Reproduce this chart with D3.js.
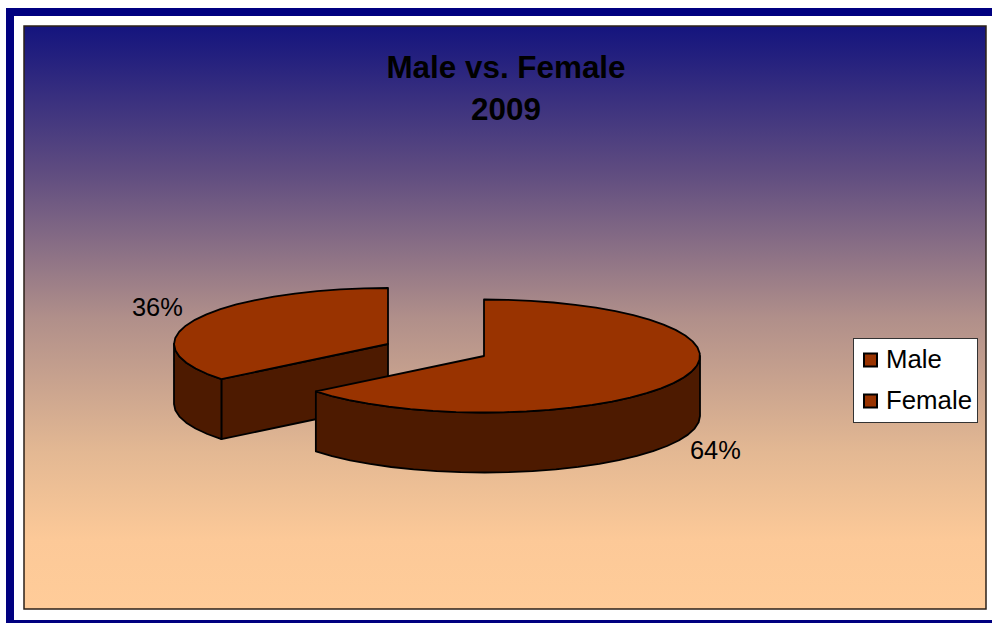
<!DOCTYPE html>
<html>
<head>
<meta charset="utf-8">
<script src="https://cdn.jsdelivr.net/npm/d3@7"></script>
<style>
html, body { margin: 0; padding: 0; background: #fff; overflow: hidden; }
text { font-family: "Liberation Sans", Arial, sans-serif; fill: #000; }
</style>
</head>
<body>
<div id="chart"></div>
<script>
// data
var categories = ["Male", "Female"];
var percents = [64.2, 35.8];
var titleLines = ["Male vs. Female", "2009"];

var width = 992, height = 623;
var topColor = "#993300", sideColor = "#4d1a00";

var svg = d3.select("#chart").append("svg")
    .attr("width", width)
    .attr("height", height);

// the background blend is not linear
var gradStops = [
    {o: "0%", c: "#14147e"},
    {o: "25%", c: "#5f4c80"},
    {o: "50%", c: "#b08f8a"},
    {o: "73%", c: "#e3b893"},
    {o: "88%", c: "#fcc998"},
    {o: "100%", c: "#ffcc99"}
];
var grad = svg.append("defs").append("linearGradient")
    .attr("id", "bg")
    .attr("x1", 0).attr("y1", 0).attr("x2", 0).attr("y2", 1);
grad.selectAll("stop")
    .data(gradStops)
  .enter().append("stop")
    .attr("offset", function(d) { return d.o; })
    .attr("stop-color", function(d) { return d.c; });

// outer frame, open on the right like the original
svg.append("path")
    .attr("d", "M992,12H10V624H992")
    .attr("fill", "none")
    .attr("stroke", "#000080")
    .attr("stroke-width", 8);

var plot = {left: 24, top: 26, right: 986, bottom: 609};
svg.append("rect")
    .attr("x", plot.left)
    .attr("y", plot.top)
    .attr("width", plot.right - plot.left)
    .attr("height", plot.bottom - plot.top)
    .attr("fill", "url(#bg)")
    .attr("stroke", "#2b2118")
    .attr("stroke-width", 1.5);

svg.selectAll(".title")
    .data(titleLines)
  .enter().append("text")
    .attr("class", "title")
    .attr("x", 506)
    .attr("y", function(d, i) { return 78 + i * 42; })
    .attr("text-anchor", "middle")
    .style("font-size", "31.4px")
    .style("font-weight", "bold")
    .text(function(d) { return d; });

// slices start at 12 o'clock and go clockwise
var arcs = d3.pie().sort(null).value(function(d) { return d; })(percents);

var depth = 60;
// the exploded slices have their own centres and radii
var centers = [{x: 484, y: 356, rx: 216, ry: 56.5}, {x: 388, y: 344, rx: 214, ry: 56}];

function point(c, a, dy) {
    var sx = d3.scaleLinear().domain([-1, 1]).range([c.x - c.rx, c.x + c.rx]);
    var sy = d3.scaleLinear().domain([-1, 1]).range([c.y + dy - c.ry, c.y + dy + c.ry]);
    return [sx(Math.sin(a)), sy(-Math.cos(a))];
}

function rim(c, a0, a1, dy) {
    var n = Math.max(2, Math.round(Math.abs(a1 - a0) / 0.11));
    return d3.range(n + 1).map(function(i) {
        return point(c, a0 + (a1 - a0) * i / n, dy);
    });
}

var line = d3.line();
var halfPi = Math.PI / 2;

function drawShape(pts, fill) {
    svg.append("path")
        .attr("d", line(pts) + "Z")
        .attr("fill", fill)
        .attr("stroke", "#000")
        .attr("stroke-width", 1.8)
        .attr("stroke-linejoin", "round");
}

// draw the back slice first, the big one overlaps it
[1, 0].forEach(function(i) {
    var d = arcs[i], c = centers[i];
    var centerPt = [c.x, c.y], centerLow = [c.x, c.y + depth];
    if (i === 1) {
        // cut face towards the viewer
        var e = point(c, d.startAngle, 0), eLow = point(c, d.startAngle, depth);
        drawShape([centerPt, e, eLow, centerLow], sideColor);
        // outer wall down to the left-most point
        var wall = rim(c, d.startAngle, 1.5 * Math.PI, 0);
        drawShape(wall.concat(rim(c, 1.5 * Math.PI, d.startAngle, depth)), sideColor);
    } else {
        var wall2 = rim(c, halfPi, d.endAngle, 0);
        drawShape(wall2.concat(rim(c, d.endAngle, halfPi, depth)), sideColor);
    }
    drawShape([centerPt].concat(rim(c, d.startAngle, d.endAngle, 0)), topColor);
});

// value labels
var labelPos = [{x: 690, y: 459}, {x: 132, y: 316}];
svg.selectAll(".pct")
    .data(percents)
  .enter().append("text")
    .attr("class", "pct")
    .attr("x", function(d, i) { return labelPos[i].x; })
    .attr("y", function(d, i) { return labelPos[i].y; })
    .style("font-size", "25.4px")
    .text(function(d) { return Math.round(d) + "%"; });

// legend
var legend = svg.append("g").attr("transform", "translate(853.5,338.5)");
legend.append("rect")
    .attr("width", 124)
    .attr("height", 84)
    .attr("fill", "#fff")
    .attr("stroke", "#333")
    .attr("stroke-width", 1);

var legendY = d3.scalePoint().domain(categories).range([22, 63]);
var item = legend.selectAll(".item")
    .data(categories)
  .enter().append("g")
    .attr("class", "item")
    .attr("transform", function(d) { return "translate(0," + legendY(d) + ")"; });
item.append("rect")
    .attr("x", 10.5)
    .attr("y", -7)
    .attr("width", 13)
    .attr("height", 13)
    .attr("fill", topColor)
    .attr("stroke", "#000")
    .attr("stroke-width", 2);
item.append("text")
    .attr("x", 32.5)
    .attr("y", 7)
    .style("font-size", "25.8px")
    .text(function(d) { return d; });
</script>
</body>
</html>
